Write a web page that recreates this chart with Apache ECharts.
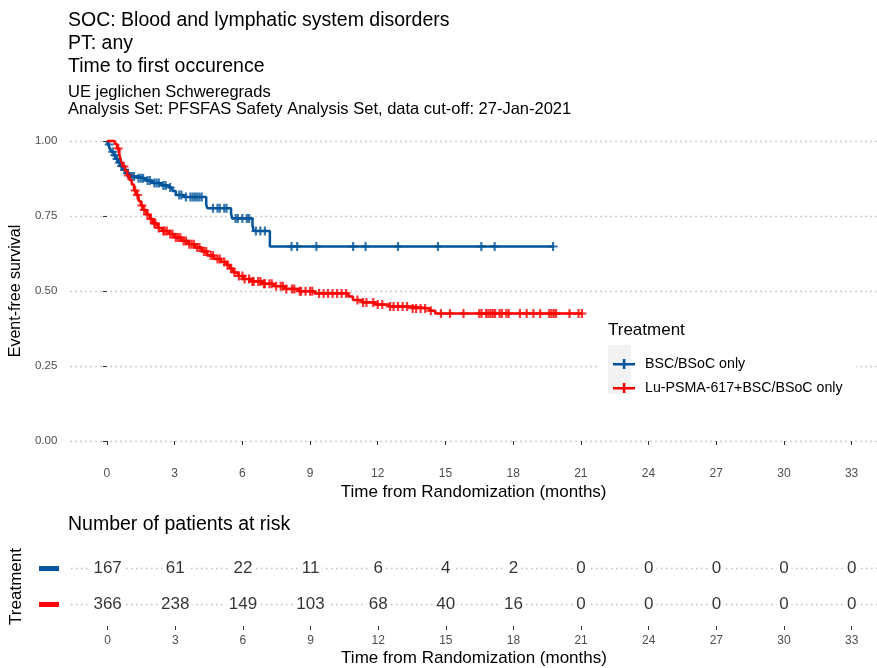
<!DOCTYPE html>
<html>
<head>
<meta charset="utf-8">
<script src="https://cdn.jsdelivr.net/npm/echarts@6/dist/echarts.min.js"></script>
<style>
  html, body { margin: 0; padding: 0; background: #fff; }
  #chart { width: 877px; height: 668px; }
</style>
</head>
<body>
<div id="chart"></div>
<script>
// BSC/BSoC only: event times (months) and survival right after each event
const bscTimes = [0.05, 0.12, 0.2, 0.3, 0.4, 0.5, 0.6, 0.7, 0.85, 1.0, 1.35, 1.7, 2.0, 2.4, 2.75, 2.9, 3.05, 3.4, 4.4, 4.45, 5.5, 5.55, 6.45, 6.5, 7.22];
const bscSurv = [0.988, 0.976, 0.964, 0.952, 0.94, 0.928, 0.916, 0.904, 0.892, 0.882, 0.876, 0.868, 0.86, 0.852, 0.845, 0.833, 0.82, 0.813, 0.787, 0.776, 0.758, 0.742, 0.72, 0.70, 0.648];
const bscCensor = [0.1, 0.25, 0.35, 0.45, 0.55, 0.65, 0.78, 0.92, 1.1, 1.2, 1.4, 1.5, 1.6, 1.8, 1.9, 2.1, 2.2, 2.3, 2.5, 2.6, 2.8, 3.2, 3.3, 3.5, 3.7, 3.8, 3.9, 4.0, 4.1, 4.2, 4.7, 4.9, 5.0, 5.2, 5.3, 5.7, 5.8, 6.0, 6.2, 6.3, 6.6, 6.8, 7.0, 8.18, 8.43, 9.28, 10.91, 11.46, 12.9, 14.67, 16.59, 17.18, 19.77];

// Lu-PSMA-617+BSC/BSoC only
const luTimes = [0.35, 0.45, 0.55, 0.62, 0.7, 0.8, 0.9, 1.0, 1.1, 1.2, 1.3, 1.4, 1.5, 1.6, 1.75, 1.9, 2.05, 2.25, 2.45, 2.75, 3.0, 3.3, 3.6, 3.9, 4.2, 4.45, 4.75, 5.05, 5.3, 5.45, 5.6, 5.8, 6.05, 6.4, 6.9, 7.4, 7.9, 8.5, 9.2, 10.7, 10.9, 11.3, 11.9, 12.5, 13.5, 14.3, 14.55];
const luSurv = [0.99, 0.975, 0.955, 0.935, 0.915, 0.90, 0.885, 0.87, 0.855, 0.835, 0.82, 0.80, 0.785, 0.77, 0.755, 0.74, 0.725, 0.71, 0.70, 0.69, 0.678, 0.667, 0.656, 0.645, 0.632, 0.618, 0.607, 0.597, 0.587, 0.575, 0.562, 0.55, 0.54, 0.532, 0.524, 0.516, 0.507, 0.499, 0.492, 0.482, 0.47, 0.462, 0.455, 0.448, 0.442, 0.434, 0.425];
const luCensor = [0.5, 0.75, 0.95, 1.25, 1.35, 1.55, 1.65, 1.8, 1.95, 2.1, 2.15, 2.3, 2.5, 2.55, 2.65, 2.8, 2.9, 3.05, 3.15, 3.25, 3.4, 3.5, 3.65, 3.75, 3.85, 4.0, 4.1, 4.3, 4.4, 4.6, 4.7, 4.9, 5.0, 5.2, 5.35, 5.5, 5.65, 5.85, 6.0, 6.1, 6.3, 6.45, 6.5, 6.7, 6.8, 6.95, 7.0, 7.2, 7.3, 7.5, 7.7, 7.8, 7.95, 8.2, 8.3, 8.55, 8.6, 8.8, 9.0, 9.1, 9.4, 9.6, 9.8, 10.0, 10.2, 10.4, 10.6, 11.1, 11.35, 11.5, 11.8, 12.0, 12.2, 12.55, 12.7, 12.9, 13.1, 13.3, 13.55, 13.7, 13.9, 14.1, 14.35, 14.8, 15.2, 15.8, 16.5, 16.6, 16.8, 16.9, 17.0, 17.1, 17.2, 17.4, 17.5, 17.7, 17.8, 18.3, 18.6, 18.9, 19.2, 19.6, 19.7, 19.8, 19.9, 20.5, 20.9, 21.05];

// number at risk table
const riskTimes = [0, 3, 6, 9, 12, 15, 18, 21, 24, 27, 30, 33];
const bscRisk = [167, 61, 22, 11, 6, 4, 2, 0, 0, 0, 0, 0];
const luRisk = [366, 238, 149, 103, 68, 40, 16, 0, 0, 0, 0, 0];
const yTicks = [0, 0.25, 0.5, 0.75, 1];

const BLUE = '#00549b';
const RED = '#ff0000';
const FONT = 'Liberation Sans, Arial, sans-serif';
const PLUS = 'path://M3.6,0h2.3v9.5h-2.3z M0,3.6h9.5v2.1H0z';
const KEY = 'path://M0,4h22v2.6H0z M9.8,0h2.6v10h-2.6z';
const GRID_LINE = { color: '#bdbdbd', type: [1.5, 3.5], width: 1.3 };

function stepData(times, surv, lastT) {
  const d = [[0, 1]];
  times.forEach((t, i) => d.push([t, surv[i]]));
  d.push([lastT, surv[surv.length - 1]]);
  return d;
}
function survAt(times, surv, t) {
  let s = 1;
  times.forEach((e, i) => { if (e <= t) s = surv[i]; });
  return s;
}
function censorData(times, surv, cens) {
  return cens.map(t => [t, survAt(times, surv, t)]);
}

const xBase = {
  type: 'value', min: -1.625, max: 34.125,
  axisLine: { show: false },
  axisTick: { show: true, customValues: riskTimes, length: 4, lineStyle: { color: '#333' } },
  axisLabel: { customValues: riskTimes, color: '#4d4d4d', fontSize: 12, fontFamily: FONT, margin: 12 },
  splitLine: { show: false },
  name: 'Time from Randomization (months)', nameLocation: 'middle',
  nameTextStyle: { color: '#000', fontSize: 17, fontFamily: FONT }
};

const chart = echarts.init(document.getElementById('chart'));
chart.setOption({
  animation: false,
  textStyle: { fontFamily: FONT },
  title: [{
    text: 'SOC: Blood and lymphatic system disorders\nPT: any\nTime to first occurence',
    subtext: 'UE jeglichen Schweregrads\nAnalysis Set: PFSFAS Safety Analysis Set, data cut-off: 27-Jan-2021',
    left: 68, top: 9, padding: 0, itemGap: 6,
    textStyle: { fontSize: 19.5, fontWeight: 'normal', color: '#000', lineHeight: 23, fontFamily: FONT },
    subtextStyle: { fontSize: 16.5, color: '#000', lineHeight: 17, fontFamily: FONT }
  }, {
    text: 'Number of patients at risk',
    left: 68, top: 513, padding: 0,
    textStyle: { fontSize: 19.5, fontWeight: 'normal', color: '#000', lineHeight: 23, fontFamily: FONT }
  }],
  grid: [
    { left: 70, right: 0, top: 126, height: 330 },
    { left: 70, right: 0, top: 547, height: 81 }
  ],
  xAxis: [
    Object.assign({}, xBase, { gridIndex: 0, nameGap: 28 }),
    Object.assign({}, xBase, { gridIndex: 1, nameGap: 24, axisLabel: Object.assign({}, xBase.axisLabel, { margin: 9 }) })
  ],
  yAxis: [{
    gridIndex: 0, type: 'value', min: -0.05, max: 1.05,
    axisLine: { show: false },
    axisTick: { show: true, customValues: yTicks, length: 4, lineStyle: { color: '#333' } },
    axisLabel: { customValues: yTicks, color: '#4d4d4d', fontSize: 11.5, margin: 13, formatter: v => v.toFixed(2) },
    splitLine: { show: true, lineStyle: GRID_LINE },
    name: 'Event-free survival', nameLocation: 'middle', nameGap: 46,
    nameTextStyle: { color: '#000', fontSize: 16, fontFamily: FONT }
  }, {
    gridIndex: 1, type: 'value', min: 0.4, max: 2.6,
    axisLine: { show: false },
    axisTick: { show: true, customValues: [1, 2], length: 4, lineStyle: { color: '#fff' } },
    axisLabel: {
      customValues: [1, 2], margin: 12,
      formatter: v => (v === 2 ? '{b|}' : '{r|}'),
      rich: {
        b: { backgroundColor: BLUE, width: 20, height: 5 },
        r: { backgroundColor: RED, width: 20, height: 5 }
      }
    },
    splitLine: { show: true, lineStyle: GRID_LINE },
    name: 'Treatment', nameLocation: 'middle', nameGap: 46,
    nameTextStyle: { color: '#000', fontSize: 17, fontFamily: FONT }
  }],
  legend: {
    left: 608, top: 351, orient: 'vertical', itemWidth: 22, itemHeight: 10, itemGap: 8,
    z: 4,
    textStyle: { fontSize: 14.2, color: '#000', lineHeight: 16, padding: [0, 0, 0, 5], fontFamily: FONT },
    data: [
      { name: 'BSC/BSoC only', icon: KEY },
      { name: 'Lu-PSMA-617+BSC/BSoC only', icon: KEY }
    ]
  },
  graphic: [
    { type: 'rect', z: 3, shape: { x: 598, y: 312, width: 258, height: 88 }, style: { fill: '#fff' } },
    { type: 'rect', z: 3, shape: { x: 608, y: 345, width: 23, height: 49 }, style: { fill: '#f2f2f2' } },
    { type: 'text', z: 3, x: 608, y: 330, style: { text: 'Treatment', fill: '#000', font: '17px ' + FONT, verticalAlign: 'middle' } }
  ],
  series: [
    {
      name: 'BSC/BSoC only', type: 'line', step: 'end', showSymbol: false,
      xAxisIndex: 0, yAxisIndex: 0, color: BLUE,
      lineStyle: { color: BLUE, width: 2.5 },
      data: stepData(bscTimes, bscSurv, 19.8)
    },
    {
      name: 'bsc-censor', type: 'scatter', xAxisIndex: 0, yAxisIndex: 0,
      symbol: PLUS, symbolSize: 9, itemStyle: { color: BLUE },
      data: censorData(bscTimes, bscSurv, bscCensor)
    },
    {
      name: 'Lu-PSMA-617+BSC/BSoC only', type: 'line', step: 'end', showSymbol: false,
      xAxisIndex: 0, yAxisIndex: 0, color: RED,
      lineStyle: { color: RED, width: 2.5 },
      data: stepData(luTimes, luSurv, 21.05)
    },
    {
      name: 'lu-censor', type: 'scatter', xAxisIndex: 0, yAxisIndex: 0,
      symbol: PLUS, symbolSize: 9, itemStyle: { color: RED },
      data: censorData(luTimes, luSurv, luCensor)
    },
    {
      name: 'risk-bsc', type: 'scatter', xAxisIndex: 1, yAxisIndex: 1, symbolSize: 0,
      label: { show: true, position: 'inside', formatter: p => p.value[2], color: '#000', fontSize: 17, backgroundColor: '#fff', padding: [0, 3] },
      data: riskTimes.map((t, i) => [t, 2, bscRisk[i]])
    },
    {
      name: 'risk-lu', type: 'scatter', xAxisIndex: 1, yAxisIndex: 1, symbolSize: 0,
      label: { show: true, position: 'inside', formatter: p => p.value[2], color: '#000', fontSize: 17, backgroundColor: '#fff', padding: [0, 3] },
      data: riskTimes.map((t, i) => [t, 1, luRisk[i]])
    }
  ]
});
</script>
</body>
</html>
